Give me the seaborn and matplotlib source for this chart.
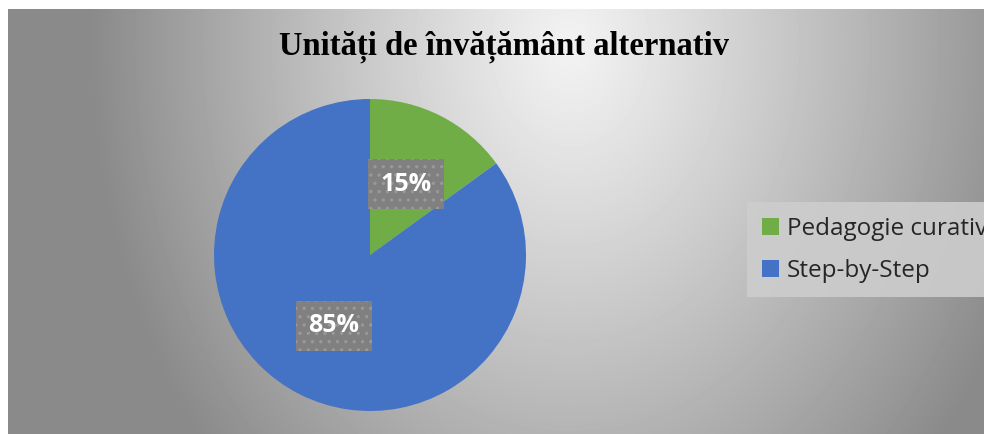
import numpy as np
import matplotlib
matplotlib.use('Agg')
import matplotlib.pyplot as plt
import seaborn as sns

# date
categorii = ['Pedagogie curativă', 'Step-by-Step']
valori = [15, 85]
culori = ['#70AD47', '#4472C4']
titlu = 'Unități de învățământ alternativ'

sns.set_style('white')
plt.rcParams['font.family'] = ['Open Sans', 'DejaVu Sans']
plt.rcParams['hatch.linewidth'] = 1.2

W, H = 984, 434
fig = plt.figure(figsize=(W / 100, H / 100), dpi=100)
fig.patch.set_facecolor('white')

# fundal cu gradient radial
bg = fig.add_axes([8 / W, 0, 1 - 8 / W, (H - 9) / H], zorder=0)
yy, xx = np.mgrid[9:H, 8:W]
d = np.sqrt(((xx - 570) / 480.0) ** 2 + ((yy - 45) / 620.0) ** 2)
d = np.clip(d, 0, 1) ** 1.1
img = 0.95 * (1 - d) + 0.54 * d
bg.imshow(img, cmap='gray', vmin=0, vmax=1, aspect='auto',
          extent=[8, W, H, 9], interpolation='bilinear')
bg.set_axis_off()

# pie
cx, cy, r = 370, 255, 156
ax = fig.add_axes([(cx - r) / W, (H - cy - r) / H, 2 * r / W, 2 * r / H],
                  zorder=2)
ax.set_facecolor('none')
wedges, texts, autotexts = ax.pie(
    valori, colors=culori, startangle=90, counterclock=False,
    autopct='%1.0f%%', pctdistance=0.51, radius=1,
    wedgeprops=dict(linewidth=0),
    textprops=dict(color='white', fontsize=18, fontweight='bold'))
for t in autotexts:
    t.set_bbox(dict(boxstyle='square,pad=0.5', facecolor='#808080',
                    edgecolor='#999999', linewidth=0, hatch='..'))
ax.set_xlim(-1, 1)
ax.set_ylim(-1, 1)
ax.set_aspect('equal')
ax.set_axis_off()

fig.text(504 / W, 1 - 47 / H, titlu, ha='center', va='center',
         fontsize=23.5, fontweight='bold', family='Liberation Serif',
         color='black', zorder=3)

leg = fig.legend(wedges, categorii, loc='upper left',
                 bbox_to_anchor=(747 / W, 1 - 202 / H),
                 frameon=True, fancybox=False, fontsize=17.5,
                 handlelength=0.7, handleheight=0.7, handletextpad=0.35,
                 labelspacing=0.75, borderpad=0.6, borderaxespad=0)
leg.get_frame().set_facecolor('#cdcdcd')
leg.get_frame().set_edgecolor('none')
leg.get_frame().set_alpha(0.9)
leg.set_zorder(4)

fig.savefig('out.png', dpi=100)
